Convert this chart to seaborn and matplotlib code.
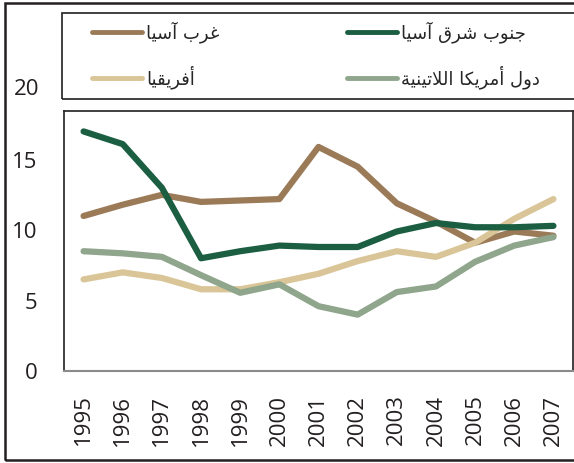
import numpy as np
import pandas as pd
import matplotlib
matplotlib.use("Agg")
import matplotlib.pyplot as plt
import matplotlib.transforms as mtransforms
from matplotlib.patches import Rectangle
import seaborn as sns

years = ["1995", "1996", "1997", "1998", "1999", "2000", "2001",
         "2002", "2003", "2004", "2005", "2006", "2007"]
west_asia = [11.0, 11.8, 12.5, 12.0, 12.1, 12.2, 15.9, 14.5, 11.9, 10.6, 9.1, 9.9, 9.6]
africa = [6.5, 7.0, 6.6, 5.8, 5.8, 6.3, 6.9, 7.8, 8.5, 8.1, 9.1, 10.8, 12.2]
se_asia = [17.0, 16.1, 13.0, 8.0, 8.5, 8.9, 8.8, 8.8, 9.9, 10.5, 10.2, 10.2, 10.3]
latin_am = [8.5, 8.35, 8.1, 6.8, 5.55, 6.15, 4.6, 4.0, 5.6, 6.0, 7.75, 8.9, 9.5]
series_names = ["غرب آسيا", "أفريقيا", "جنوب شرق آسيا", "دول أمريكا اللاتينية"]
series_values = [west_asia, africa, se_asia, latin_am]
colors = ["#9b7a58", "#d9c597", "#1b5e42", "#8fa58c"]
y_ticks = [0, 5, 10, 15, 20]

# --- minimal Arabic shaping (matplotlib has no complex text layout) ---
FORMS = {  # iso, fin, ini, med
    "ا": ("\uFE8D", "\uFE8E", None, None),
    "آ": ("\uFE81", "\uFE82", None, None),
    "أ": ("\uFE83", "\uFE84", None, None),
    "ب": ("\uFE8F", "\uFE90", "\uFE91", "\uFE92"),
    "ة": ("\uFE93", "\uFE94", None, None),
    "ت": ("\uFE95", "\uFE96", "\uFE97", "\uFE98"),
    "ج": ("\uFE9D", "\uFE9E", "\uFE9F", "\uFEA0"),
    "د": ("\uFEA9", "\uFEAA", None, None),
    "ر": ("\uFEAD", "\uFEAE", None, None),
    "س": ("\uFEB1", "\uFEB2", "\uFEB3", "\uFEB4"),
    "ش": ("\uFEB5", "\uFEB6", "\uFEB7", "\uFEB8"),
    "غ": ("\uFECD", "\uFECE", "\uFECF", "\uFED0"),
    "ف": ("\uFED1", "\uFED2", "\uFED3", "\uFED4"),
    "ق": ("\uFED5", "\uFED6", "\uFED7", "\uFED8"),
    "ك": ("\uFED9", "\uFEDA", "\uFEDB", "\uFEDC"),
    "ل": ("\uFEDD", "\uFEDE", "\uFEDF", "\uFEE0"),
    "م": ("\uFEE1", "\uFEE2", "\uFEE3", "\uFEE4"),
    "ن": ("\uFEE5", "\uFEE6", "\uFEE7", "\uFEE8"),
    "و": ("\uFEED", "\uFEEE", None, None),
    "ي": ("\uFEF1", "\uFEF2", "\uFEF3", "\uFEF4"),
}
LAMALEF = {"ا": ("\uFEFB", "\uFEFC"), "آ": ("\uFEF5", "\uFEF6"), "أ": ("\uFEF7", "\uFEF8")}


def dual(c):
    return c in FORMS and FORMS[c][2] is not None


def shape(text):
    out = []
    i = 0
    n = len(text)
    while i < n:
        c = text[i]
        if c not in FORMS:
            out.append(c)
            i += 1
            continue
        prev = text[i - 1] if i > 0 else " "
        joins_prev = dual(prev)
        if c == "ل" and i + 1 < n and text[i + 1] in LAMALEF:
            iso, fin = LAMALEF[text[i + 1]]
            out.append(fin if joins_prev else iso)
            i += 2
            continue
        nxt = text[i + 1] if i + 1 < n else " "
        joins_next = dual(c) and nxt in FORMS
        iso, fin, ini, med = FORMS[c]
        if joins_prev and joins_next:
            out.append(med)
        elif joins_prev:
            out.append(fin)
        elif joins_next:
            out.append(ini)
        else:
            out.append(iso)
        i += 1
    return "".join(out)[::-1]


sns.set_style("white")
plt.rcParams["font.family"] = ["Open Sans", "DejaVu Sans"]

rows = []
for name, vals in zip(series_names, series_values):
    for idx, v in enumerate(vals):
        rows.append({"x": idx, "value": v, "series": shape(name)})
df = pd.DataFrame(rows)

W, H = 574, 463
fig = plt.figure(figsize=(W / 100, H / 100), dpi=100)
ax = fig.add_axes([64 / W, (H - 371) / H, (573 - 64) / W, (371 - 111) / H])

sns.lineplot(data=df, x="x", y="value", hue="series",
             palette=dict(zip([shape(s) for s in series_names], colors)),
             linewidth=4.5, ax=ax, legend=True)
for ln in ax.get_lines():
    ln.set_solid_capstyle("round")
    ln.set_solid_joinstyle("round")

ax.set_xlim(-0.5, len(years) - 0.5)
ax.set_ylim(0, 18.45)
ax.set_xticks(range(len(years)))
ax.set_xticklabels(years, rotation=90, fontsize=16, color="#231f20")
ax.set_xticks(np.arange(len(years) + 1) - 0.5, minor=True)
ax.tick_params(axis="x", which="major", length=0, pad=17)
ax.tick_params(axis="x", which="minor", length=6, width=1.5, color="#8a8a8a", direction="out")
ax.set_yticks(y_ticks[:-1])
ax.set_yticklabels([str(t) for t in y_ticks[:-1]], fontsize=16, color="#231f20")
ax.tick_params(axis="y", length=0, pad=19)
trans = mtransforms.blended_transform_factory(ax.transAxes, ax.transData)
ax.text(-25 / (573 - 64), y_ticks[-1], str(y_ticks[-1]), transform=trans,
        ha="right", va="center", fontsize=16, color="#231f20", clip_on=False)
ax.set_xlabel("")
ax.set_ylabel("")
for s in ["left", "top", "right"]:
    ax.spines[s].set_color("#231f20")
    ax.spines[s].set_linewidth(1.2)
ax.spines["bottom"].set_color("#8a8a8a")
ax.spines["bottom"].set_linewidth(1.5)

handles, labels = ax.get_legend_handles_labels()
fs = 13
em = fs * 100 / 72
leg = ax.legend(handles, labels, ncol=2, loc="upper left",
                bbox_to_anchor=(92 / W, (H - 21) / H),
                bbox_transform=fig.transFigure,
                frameon=False,
                prop={"family": "DejaVu Sans", "size": fs},
                handlelength=50 / em, handletextpad=4 / em, borderpad=0,
                labelspacing=(41 - em * 1.0) / em, columnspacing=128 / em,
                borderaxespad=0)
for lh in leg.get_lines():
    lh.set_linewidth(3.5)
    lh.set_solid_capstyle("round")

# legend box and outer frame
fig.add_artist(Rectangle((62 / W, (H - 99) / H), 1.0, (99 - 13) / H,
                         transform=fig.transFigure, fill=False,
                         edgecolor="#231f20", linewidth=1.2))
fig.add_artist(Rectangle((5 / W, (H - 460) / H), 1.0, (460 - 3) / H,
                         transform=fig.transFigure, fill=False,
                         edgecolor="#231f20", linewidth=1.8))

fig.savefig("out.png", dpi=100)
